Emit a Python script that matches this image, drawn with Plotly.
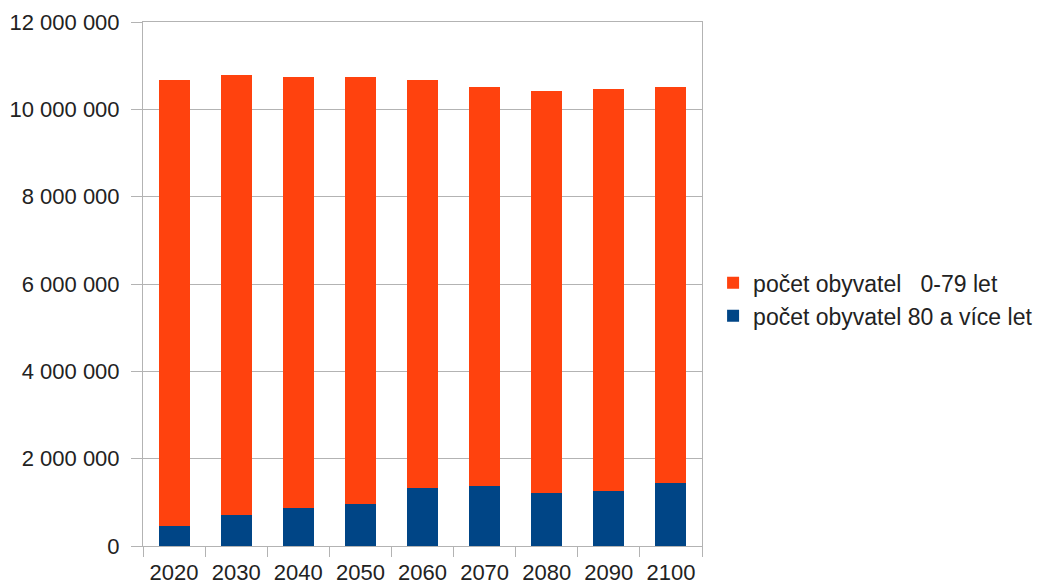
import plotly.graph_objects as go

# Population projection by decade
years = ["2020", "2030", "2040", "2050", "2060", "2070", "2080", "2090", "2100"]
total = [10680000, 10790000, 10750000, 10740000, 10680000, 10510000, 10420000, 10460000, 10520000]
age_80_plus = [448000, 710000, 873000, 958000, 1320000, 1367000, 1220000, 1260000, 1436000]
age_0_79 = [t - o for t, o in zip(total, age_80_plus)]

name_young = "počet obyvatel\u00a0\u00a0\u00a00-79 let"
name_old = "počet obyvatel 80 a více let"

font_family = "Liberation Sans, Arial, sans-serif"
text_color = "#222222"
grid_color = "#b3b3b3"

fig = go.Figure()
fig.add_trace(go.Bar(x=years, y=age_80_plus, name=name_old,
                     marker=dict(color="#004586", line=dict(width=0))))
fig.add_trace(go.Bar(x=years, y=age_0_79, name=name_young,
                     marker=dict(color="#ff420e", line=dict(width=0))))

fig.update_layout(
    width=1041, height=588,
    margin=dict(l=143, r=339, t=22, b=42),
    barmode="stack",
    bargap=0.5,
    separators=", ",
    paper_bgcolor="white",
    plot_bgcolor="white",
    font=dict(family=font_family, size=22, color=text_color),
    showlegend=True,
    legend=dict(
        xref="container", yref="container",
        x=0.685, y=0.491, xanchor="left", yanchor="middle",
        traceorder="reversed",
        itemwidth=30,
        font=dict(family=font_family, size=23, color=text_color),
        bgcolor="rgba(0,0,0,0)",
    ),
)

fig.update_xaxes(
    type="category",
    automargin=False,
    showline=True, linecolor=grid_color, linewidth=1, mirror=True,
    ticks="outside", tickson="boundaries", ticklen=10, tickcolor=grid_color,
    showgrid=False,
    tickfont=dict(size=22, color=text_color),
    ticklabelstandoff=7,
)
fig.update_yaxes(
    range=[0, 12000000],
    dtick=2000000,
    tickformat=",d",
    automargin=False,
    showline=True, linecolor=grid_color, linewidth=1, mirror=True,
    ticks="outside", ticklen=11, tickcolor=grid_color,
    showgrid=True, gridcolor=grid_color, gridwidth=1,
    zeroline=False,
    tickfont=dict(size=22, color=text_color),
    ticklabelstandoff=7,
)

fig.write_html("out.html")
